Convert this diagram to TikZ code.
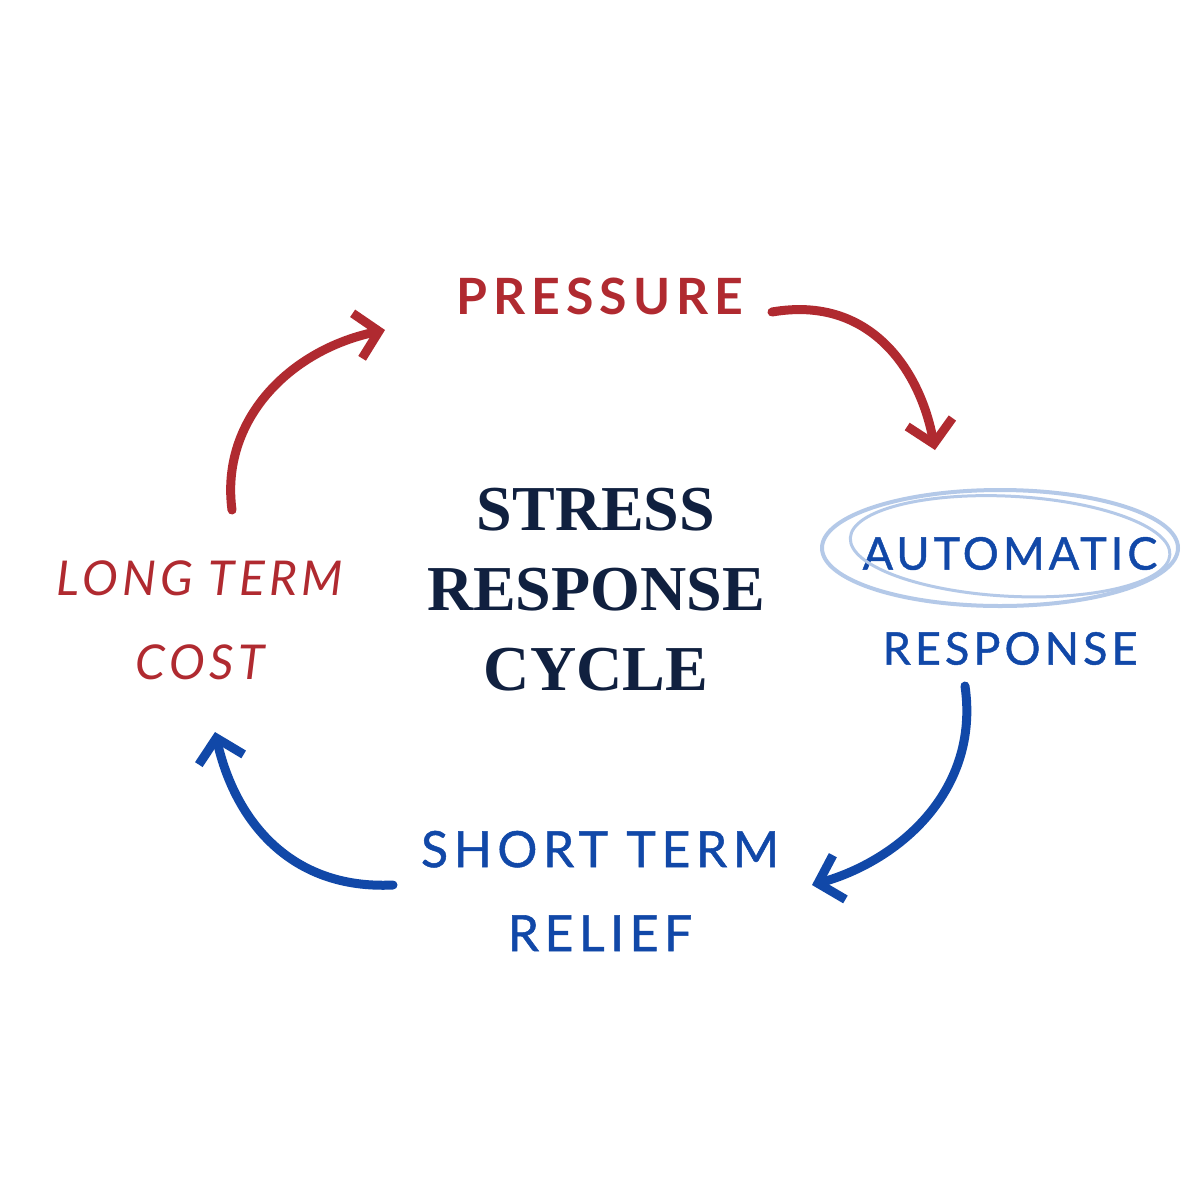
\documentclass[tikz,border=0pt]{standalone}
\usepackage{fontspec}
\setmainfont{Lato}
\newfontfamily\titlefont{Liberation Serif}
\usetikzlibrary{arrows.meta}
\definecolor{cred}{HTML}{B02A30}
\definecolor{cblue}{HTML}{1148A8}
\definecolor{cnavy}{HTML}{10203F}
\definecolor{clight}{HTML}{B4C9E8}
\begin{document}
\begin{tikzpicture}[x=1pt,y=-1pt,
  lab/.style={align=center},
  title/.style={font=\titlefont\bfseries\fontsize{64}{80}\selectfont, text=cnavy, align=center},
  arr/.style={line width=9pt, line cap=round, -{Straight Barb[length=22pt,width=46pt,line width=9pt]}}]
\useasboundingbox (0,0) rectangle (1200,1200);
\fill[white] (0,0) rectangle (1200,1200);
\node[lab, text=cred, font=\bfseries\fontsize{50}{58}\selectfont\addfontfeature{LetterSpace=12}] (p) at (600,296) {PRESSURE};
\node[lab, text=cred, font=\itshape\fontsize{48}{84}\selectfont\addfontfeature{LetterSpace=9}] (l) at (200,620) {LONG TERM\\COST};
\node[title] (t) at (596,590) {STRESS\\RESPONSE\\CYCLE};
\node[lab, text=cblue, font=\fontsize{45}{95}\selectfont\addfontfeature{LetterSpace=9,FakeBold=1}] (a) at (1010,601) {AUTOMATIC\\RESPONSE};
\node[lab, text=cblue, font=\fontsize{50}{84}\selectfont\addfontfeature{LetterSpace=11,FakeBold=1}] (s) at (600,891) {SHORT TERM\\RELIEF};
\draw[clight, line width=4pt] (1000,548) ellipse [x radius=178, y radius=58];
\draw[clight, line width=3pt, rotate around={-3:(1005,548)}] (1010,546) ellipse [x radius=160, y radius=50];
\coordinate (r1) at (772,312); \coordinate (r2) at (935,450);
\coordinate (b1) at (965,686); \coordinate (b2) at (812,885);
\coordinate (c1) at (393,885); \coordinate (c2) at (215,732);
\coordinate (d1) at (232,510); \coordinate (d2) at (385,330);
\draw[arr, cred] (r1) .. controls (870,295) and (920,370) .. (r2);
\draw[arr, cblue] (b1) .. controls (980,790) and (900,860) .. (b2);
\draw[arr, cblue] (c1) .. controls (290,890) and (235,820) .. (c2);
\draw[arr, cred] (d1) .. controls (220,420) and (290,350) .. (d2);
\end{tikzpicture}
\end{document}
